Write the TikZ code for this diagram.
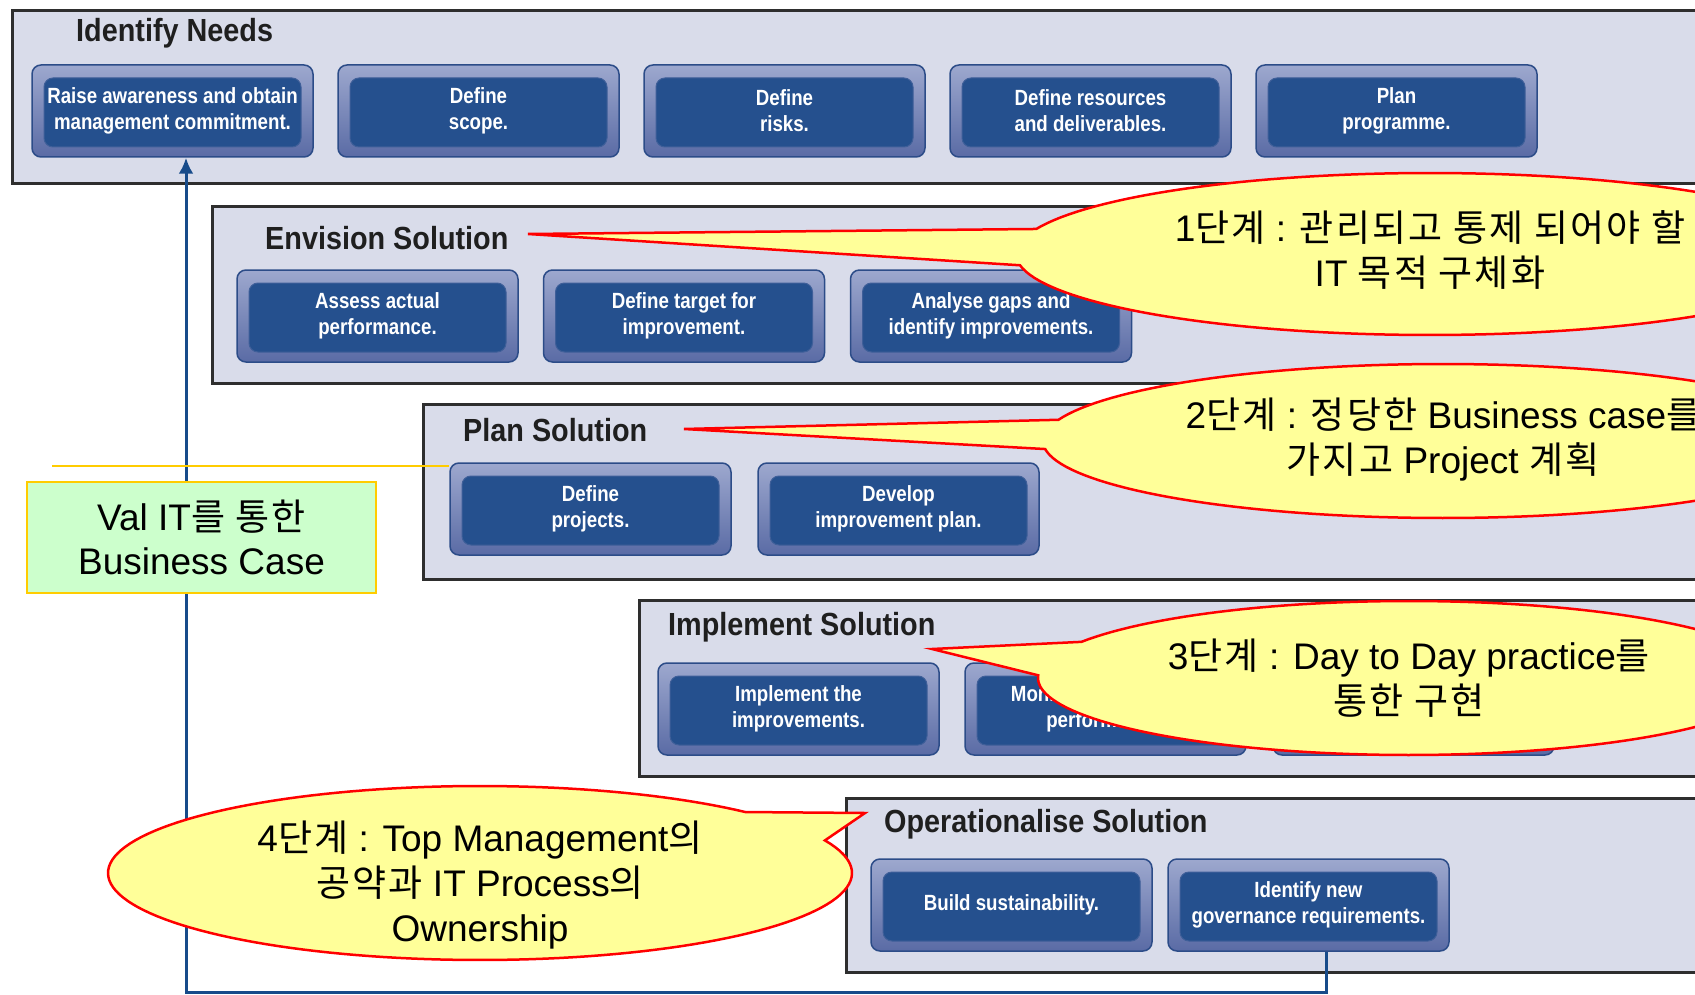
\documentclass[tikz,border=0pt]{standalone}
\usepackage{fontspec}
\setmainfont{Liberation Sans}
\newfontfamily\kr{Noto Sans CJK KR}[LetterSpace=6]
\newfontfamily\btnfont{Liberation Sans}[FakeStretch=0.85]
\newfontfamily\ttlfont{Liberation Sans}[FakeStretch=0.9]
\usetikzlibrary{arrows.meta}
\definecolor{panelfill}{HTML}{D9DCEA}
\definecolor{btninner}{HTML}{25508E}
\definecolor{btninedge}{HTML}{3F5F99}
\definecolor{btntop}{HTML}{9DA8CE}
\definecolor{btnbot}{HTML}{5A6BA5}
\definecolor{btnedge}{HTML}{2C4C88}
\definecolor{flowblue}{HTML}{174B8A}
\definecolor{calloutfill}{HTML}{FFFF99}
\definecolor{valfill}{HTML}{CCFFCC}
\definecolor{valedge}{HTML}{FFCC00}
\begin{document}
\begin{tikzpicture}[x=1pt,y=-1pt,
  panel/.style={draw=black!82, line width=3pt, fill=panelfill, anchor=north west,
    minimum height=#1, minimum width=1800pt, inner sep=0pt},
  ttl/.style={anchor=west, inner sep=0pt, text=black!88,
    font=\ttlfont\bfseries\fontsize{32}{36}\selectfont},
  btn/.style={rounded corners=9pt, draw=btnedge, line width=1.5pt,
    top color=btntop, bottom color=btnbot,
    minimum width=281pt, minimum height=92pt, inner sep=0pt,
    text=white, align=center,
    font=\btnfont\bfseries\fontsize{22}{26}\selectfont,
    path picture={\filldraw[fill=btninner, draw=btninedge, line width=1pt]
      ([xshift=12pt,yshift=-13pt]path picture bounding box.north west) rectangle
      ([xshift=-12pt,yshift=10pt]path picture bounding box.south east);}},
  flow/.style={draw=flowblue, line width=3pt},
  callout/.style={fill=calloutfill, draw=red, line width=2.5pt},
  ctext/.style={align=center, inner sep=0pt, font=\fontsize{37}{45}\selectfont},
  valbox/.style={fill=valfill, draw=valedge, line width=2pt,
    minimum width=349pt, minimum height=111pt, align=center, inner sep=0pt,
    font=\fontsize{37}{44}\selectfont}
]
\useasboundingbox (0,0) rectangle (1695,995);
\clip (0,0) rectangle (1695,995);
\fill[white] (0,0) rectangle (1695,995);

% panels
\node[panel=173pt] (p1) at (11,9) {};
\node[panel=177pt] (p2) at (211,205) {};
\node[panel=175pt] (p3) at (422,403) {};
\node[panel=176pt] (p4) at (638,599) {};
\node[panel=174pt] (p5) at (845,797) {};

% titles
\node[ttl] (t1) at (76,33) {Identify Needs};
\node[ttl] (t2) at (265,238) {Envision Solution};
\node[ttl] (t3) at (463,430) {Plan Solution};
\node[ttl] (t4) at (668,627) {Implement Solution};
\node[ttl] (t5) at (884,824) {Operationalise Solution};

% row 1
\node[btn] (b11) at (172.5,111) {Raise awareness and obtain\\management commitment.};
\node[btn] (b12) at (478.5,111) {Define\\scope.};
\node[btn] (b13) at (784.5,111) {Define\\risks.};
\node[btn] (b14) at (1090.5,111) {Define resources\\and deliverables.};
\node[btn] (b15) at (1396.5,111) {Plan\\programme.};
% row 2
\node[btn] (b21) at (377.5,316) {Assess actual\\performance.};
\node[btn] (b22) at (684,316) {Define target for\\improvement.};
\node[btn] (b23) at (991,316) {Analyse gaps and\\identify improvements.};
% row 3
\node[btn] (b31) at (590.5,509) {Define\\projects.};
\node[btn] (b32) at (898.5,509) {Develop\\improvement plan.};
% row 4
\node[btn] (b41) at (798.5,709) {Implement the\\improvements.};
\node[btn] (b42) at (1105.5,709) {Monitor and measure\\performance.};
\node[btn] (b43) at (1413.5,709) {};
% row 5
\node[btn] (b51) at (1011.5,905) {Build sustainability.};
\node[btn] (b52) at (1308.5,905) {Identify new\\governance requirements.};

% feedback loop
\coordinate (c1) at (1326,992);
\coordinate (c2) at (186,992);
\draw[flow, -{Latex[length=16pt,width=15pt]}] (c1 |- b52.south) -- (c1) -- (c2) -- (c2 |- b11.south);

% yellow line and business case box
\coordinate (yl) at (52,466);
\draw[valedge, line width=2.5pt] (yl) -- (yl -| b31.west);
\node[valbox] (val) at (201.5,537.5) {Val IT{\kr 를 통한}\\Business Case};

% callouts
\coordinate (tip1) at (528,234);
\coordinate (tip2) at (684,429);
\coordinate (tip3) at (932,649);
\coordinate (tip4) at (865,813);
\filldraw[callout] plot[domain=198:532, samples=150] ({1430+414*cos(\x)},{254+81*sin(\x)}) -- (tip1) -- cycle;
\filldraw[callout] plot[domain=196:534, samples=150] ({1443+400*cos(\x)},{441+77*sin(\x)}) -- (tip2) -- cycle;
\filldraw[callout] plot[domain=208:542, samples=150] ({1409+371*cos(\x)},{678+77*sin(\x)}) -- (tip3) -- cycle;
\filldraw[callout] plot[domain=338:675.5, samples=150] ({480+372*cos(\x)},{873+87*sin(\x)}) -- (tip4) -- cycle;

\node[ctext] (ct1) at (1430,250) {1{\kr 단계} : {\kr 관리되고 통제 되어야 할}\\IT {\kr 목적 구체화}};
\node[ctext] (ct2) at (1443,440) {2{\kr 단계} : {\kr 정당한} Business case{\kr 를}\\{\kr 가지고} Project {\kr 계획}};
\node[ctext] (ct3) at (1409,678) {3{\kr 단계} : Day to Day practice{\kr 를}\\{\kr 통한 구현}};
\node[ctext] (ct4) at (480,885) {4{\kr 단계} : Top Management{\kr 의}\\{\kr 공약과} IT Process{\kr 의}\\Ownership};
\end{tikzpicture}
\end{document}
